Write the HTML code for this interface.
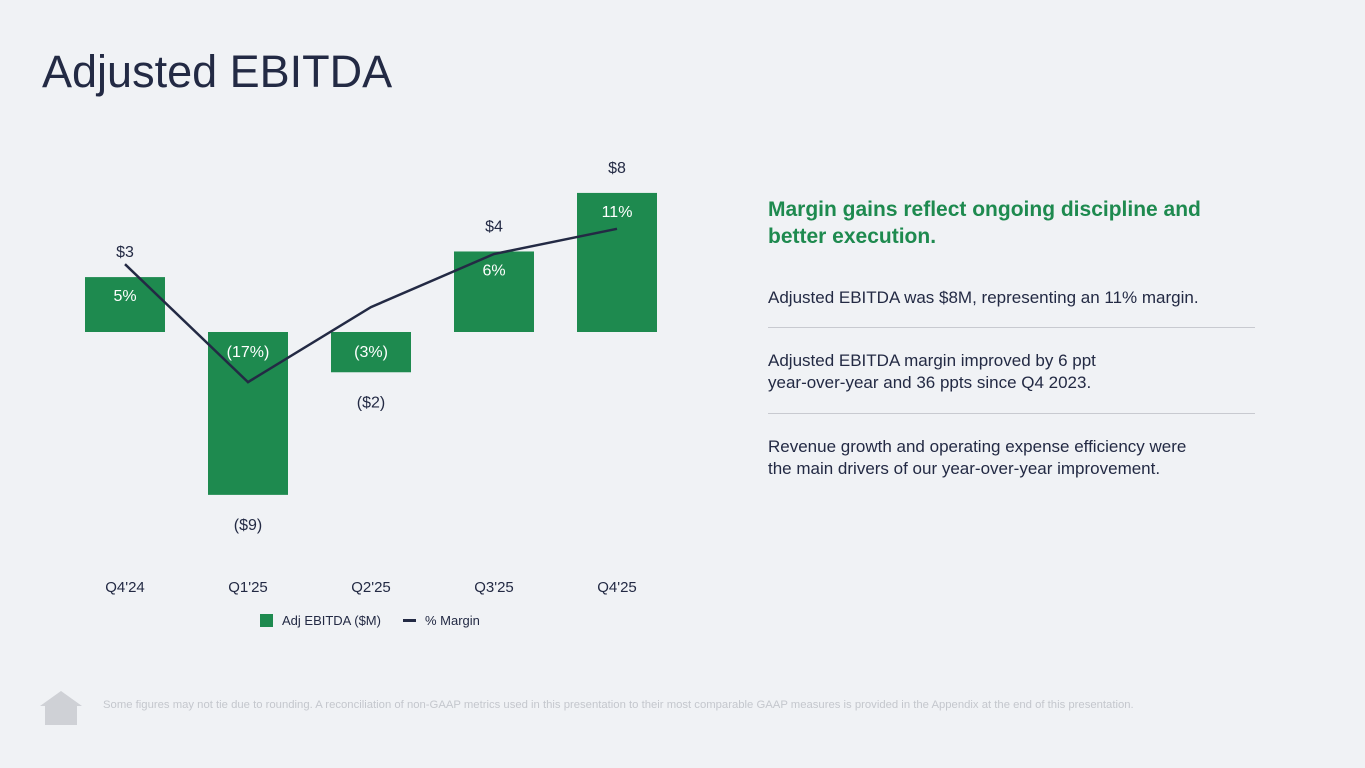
<!DOCTYPE html>
<html><head><meta charset="utf-8"><style>
body{margin:0;width:1365px;height:768px;background:#f0f2f5;font-family:"Liberation Sans",sans-serif;position:relative;overflow:hidden}
.t{position:absolute;margin:0}
</style></head><body>
<h1 class="t" style="left:42px;top:46px;font-size:45px;font-weight:400;color:#232a44">Adjusted EBITDA</h1>
<svg id="chart" width="700" height="660" style="position:absolute;left:0;top:0"></svg>
<div class="t" style="left:768px;top:196px;width:470px;font-size:21px;font-weight:700;color:#1e8a4f;line-height:27px">Margin gains reflect ongoing discipline and better execution.</div>
<div class="t" style="left:768px;top:287px;font-size:17px;color:#232a44;line-height:22px">Adjusted EBITDA was $8M, representing an 11% margin.</div>
<div class="t" style="left:768px;top:327px;width:487px;border-top:1px solid #c8cad0"></div>
<div class="t" style="left:768px;top:350px;font-size:17px;color:#232a44;line-height:22px">Adjusted EBITDA margin improved by 6 ppt<br>year-over-year and 36 ppts since Q4 2023.</div>
<div class="t" style="left:768px;top:413px;width:487px;border-top:1px solid #c8cad0"></div>
<div class="t" style="left:768px;top:436px;font-size:17px;color:#232a44;line-height:22px">Revenue growth and operating expense efficiency were<br>the main drivers of our year-over-year improvement.</div>
<svg width="44" height="36" style="position:absolute;left:39px;top:690px"><polygon points="22,1 43,16 38,16 38,35 6,35 6,16 1,16" fill="#cfd1d6"/></svg>
<div class="t" style="left:103px;top:699px;font-size:11.3px;color:#c4c7cd;white-space:nowrap">Some figures may not tie due to rounding. A reconciliation of non-GAAP metrics used in this presentation to their most comparable GAAP measures is provided in the Appendix at the end of this presentation.</div>
<script>
const categories=["Q4'24","Q1'25","Q2'25","Q3'25","Q4'25"];
const ebitda=[3.0,-8.9,-2.2,4.4,7.6];
const ebitdaLabels=["$3","($9)","($2)","$4","$8"];
const margin=[5,-17,-3,6.9,11.6];
const marginLabels=["5%","(17%)","(3%)","6%","11%"];
const svg=document.getElementById('chart');const NS='http://www.w3.org/2000/svg';
const x=i=>125+i*123;
const yB=v=>332-v*18.3;
const yM=v=>291-v*5.36;
function mk(t,a,p){const e=document.createElementNS(NS,t);for(const k in a)e.setAttribute(k,a[k]);(p||svg).appendChild(e);return e}
function txt(s,xx,yy,fill,name){const e=mk('text',{x:xx,y:yy,'text-anchor':'middle','font-size':16,fill:fill,'font-family':'Liberation Sans, sans-serif'});e.textContent=s;return e}
categories.forEach((c,i)=>{
 const v=ebitda[i];const top=Math.min(yB(v),yB(0));const h=Math.abs(yB(v)-yB(0));
 const r=mk('rect',{x:x(i)-40,y:top,width:80,height:h,fill:'#1e8a4f'});
 
 
 const lblY=v>=0?yB(v)-20:yB(v)+35;
 txt(ebitdaLabels[i],x(i),lblY,'#232a44','value-label-'+i);
 const mY=v>=0?top+24:top+25;
 txt(marginLabels[i],x(i),mY,'#ffffff','margin-label-'+i);
 txt(c,x(i),592,'#232a44','x-label-'+i).setAttribute('font-size',15);
});
const pts=margin.map((m,i)=>x(i)+','+yM(m)).join(' ');
const pl=mk('polyline',{points:pts,fill:'none',stroke:'#232a44','stroke-width':2.5});


const l1=mk('rect',{x:260,y:614,width:13,height:13,fill:'#1e8a4f'});


const t1=mk('text',{x:282,y:625,'font-size':13,fill:'#232a44','font-family':'Liberation Sans, sans-serif'});t1.textContent='Adj EBITDA ($M)';


const l2=mk('rect',{x:403,y:619,width:13,height:3,fill:'#232a44'});


const t2=mk('text',{x:425,y:625,'font-size':13,fill:'#232a44','font-family':'Liberation Sans, sans-serif'});t2.textContent='% Margin';


</script>
</body></html>
